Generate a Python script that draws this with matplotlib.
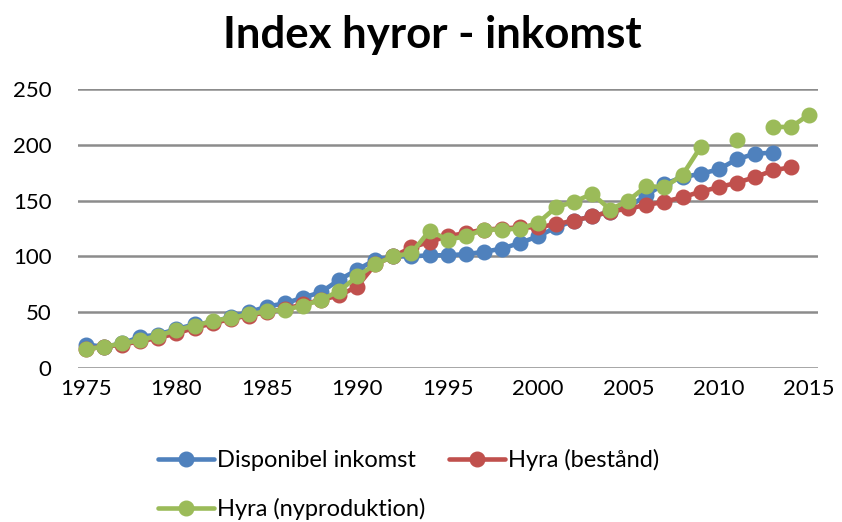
import numpy as np
import matplotlib.pyplot as plt

plt.rcParams['font.family'] = ['Lato', 'DejaVu Sans']

years = list(range(1975, 2016))

# Disponibel inkomst, 1975-2013
inkomst = [21, 19, 22, 28, 30, 35, 39, 41, 46, 50,
           55, 58, 63, 68, 79, 88, 97, 100, 100, 101,
           101, 102, 104, 107, 112, 118, 126, 132, 136, 140,
           144, 155, 165, 171, 174, 178, 187, 192, 193]

# Hyra (bestånd), 1975-2014
bestand = [17, 19, 21, 24, 27, 31, 36, 40, 44, 47,
           50, 53, 57, 61, 65, 73, 93, 100, 108, 113,
           118, 121, 124, 125, 126, 126, 129, 132, 136, 140,
           143, 146, 149, 153, 158, 162, 166, 171, 177, 180]

# Hyra (nyproduktion), 1975-2015, gaps 2010 and 2012
nyprod = [17, 19, 22, 25, 29, 34, 38, 42, 45, 48,
          51, 52, 56, 61, 69, 82, 93, 100, 103, 123,
          115, 118, 124, 124, 125, 130, 144, 149, 156, 142,
          150, 163, 162, 173, 198, None, 204, None, 216, 216,
          227]

y_ticks = [0, 50, 100, 150, 200, 250]
x_ticks = [1975, 1980, 1985, 1990, 1995, 2000, 2005, 2010, 2015]

series = [
    ('Disponibel inkomst', inkomst, '#4F81BD'),
    ('Hyra (bestånd)', bestand, '#C0504D'),
    ('Hyra (nyproduktion)', nyprod, '#9BBB59'),
]

fig = plt.figure(figsize=(8.42, 5.22), dpi=100)
ax = fig.add_axes([0.0926, 0.295, 0.879, 0.5345])

lines = []
for name, vals, col in series:
    v = np.array([np.nan if x is None else x for x in vals], dtype=float)
    ln, = ax.plot(years[:len(v)], v, color=col, lw=3.3, marker='o', ms=10.5,
                  label=name, solid_capstyle='round')
    lines.append(ln)

ax.set_xlim(1974.55, 2015.5)
ax.set_ylim(0, 250)
ax.set_yticks(y_ticks)
ax.set_xticks(x_ticks)
ax.tick_params(length=0, labelsize=16, pad=8)
ax.tick_params(axis='y', pad=19)
ax.grid(axis='y', color='#8c8c8c', lw=1.8)
ax.set_axisbelow(True)
for s in ax.spines.values():
    s.set_visible(False)

fig.suptitle('Index hyror - inkomst', fontsize=31.5, fontweight='bold', x=0.514, y=0.972)

# legend fills column-wise, so order gives rows: inkomst | bestand, nyprod
order = [lines[0], lines[2], lines[1]]
fig.legend(order, [l.get_label() for l in order], loc='upper left',
           bbox_to_anchor=(0.176, 0.158), ncol=2, frameon=False,
           fontsize=17, handlelength=2.4, handletextpad=0.1, columnspacing=1.0,
           labelspacing=1.15, borderaxespad=0)

fig.savefig('out.png', dpi=100)
